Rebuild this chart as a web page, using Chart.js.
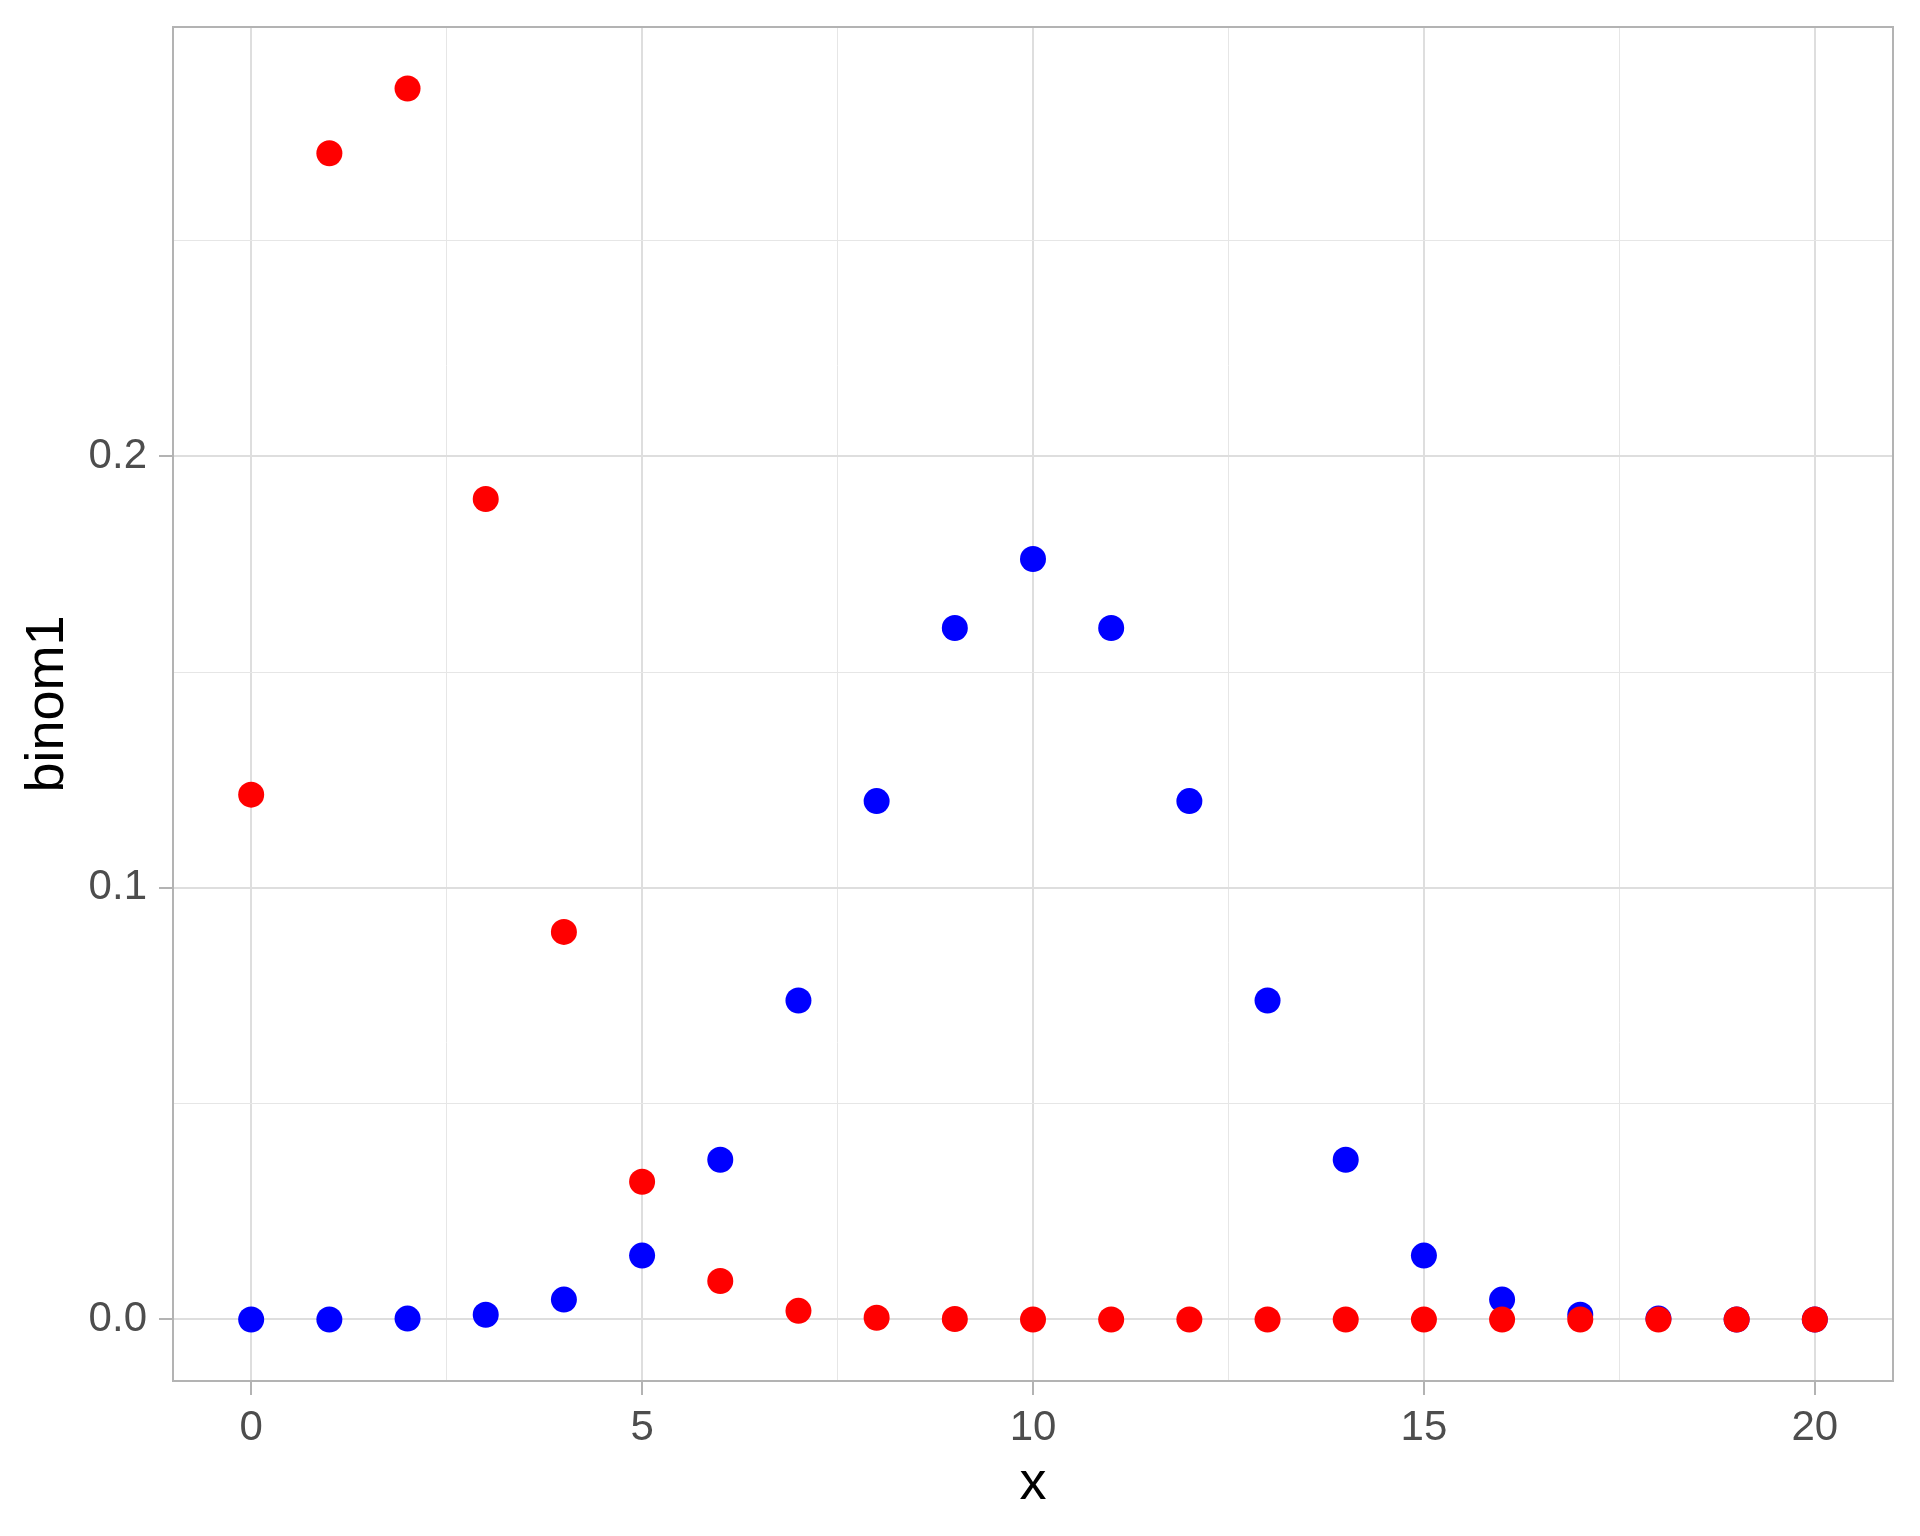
<!DOCTYPE html>
<html>
<head>
<meta charset="utf-8">
<title>binom1</title>
<script src="https://cdn.jsdelivr.net/npm/chart.js"></script>
<style>
  html, body { margin: 0; padding: 0; background: #fff; }
  #wrap { width: 1920px; height: 1536px; }
</style>
</head>
<body>
<div id="wrap"><canvas id="grafico"></canvas></div>
<script>
// valores
const xs = [0, 1, 2, 3, 4, 5, 6, 7, 8, 9, 10, 11, 12, 13, 14, 15, 16, 17, 18, 19, 20];
const binomRed = [0.1216, 0.2702, 0.2852, 0.1901, 0.0898, 0.0319, 0.0089, 0.0020, 0.0004, 0.0001, 0, 0, 0, 0, 0, 0, 0, 0, 0, 0, 0];
const binomBlue = [0, 0, 0.0002, 0.0011, 0.0046, 0.0148, 0.0370, 0.0739, 0.1201, 0.1602, 0.1762, 0.1602, 0.1201, 0.0739, 0.0370, 0.0148, 0.0046, 0.0011, 0.0002, 0, 0];
const xTicks = [0, 2.5, 5, 7.5, 10, 12.5, 15, 17.5, 20];
const xLabels = [0, 5, 10, 15, 20];
const yTicks = [0, 0.05, 0.1, 0.15, 0.2, 0.25];
const yLabels = [0, 0.1, 0.2];

const FONT = "'Liberation Sans', Arial, sans-serif";

const isMajor = (v, list) => list.some(l => Math.abs(l - v) < 1e-9);

// borde del panel (estilo ggplot theme_light)
const panelBorder = {
  id: 'panelBorder',
  afterDraw(chart) {
    const a = chart.chartArea;
    const ctx = chart.ctx;
    ctx.save();
    ctx.strokeStyle = '#B3B3B3';
    ctx.lineWidth = 2;
    ctx.strokeRect(a.left, a.top, a.right - a.left, a.bottom - a.top);
    ctx.restore();
  }
};

const ctx = document.getElementById('grafico').getContext('2d');
new Chart(ctx, {
  type: 'scatter',
  data: {
    datasets: [
      {
        label: 'red',
        data: xs.map((x, i) => ({ x: x, y: binomRed[i] })),
        backgroundColor: '#FF0000',
        borderWidth: 0,
        pointRadius: 13,
        pointHoverRadius: 13
      },
      {
        label: 'blue',
        data: xs.map((x, i) => ({ x: x, y: binomBlue[i] })),
        backgroundColor: '#0000FF',
        borderWidth: 0,
        pointRadius: 13,
        pointHoverRadius: 13
      }
    ]
  },
  options: {
    responsive: true,
    maintainAspectRatio: false,
    animation: false,
    events: [],
    layout: { padding: { left: 0, top: 27, right: 27, bottom: 0 } },
    plugins: {
      legend: { display: false },
      tooltip: { enabled: false }
    },
    scales: {
      x: {
        type: 'linear',
        min: -1,
        max: 21,
        afterBuildTicks: s => { s.ticks = xTicks.map(v => ({ value: v })); },
        afterFit: s => { s.height = 155; s.paddingLeft = 0; s.paddingRight = 0; },
        border: { display: false },
        grid: {
          color: c => isMajor(c.tick.value, xLabels) ? '#DEDEDE' : '#E6E6E6',
          lineWidth: c => isMajor(c.tick.value, xLabels) ? 2 : 1,
          tickColor: c => isMajor(c.tick.value, xLabels) ? '#B3B3B3' : 'rgba(0,0,0,0)',
          tickWidth: 2,
          tickLength: 14
        },
        ticks: {
          autoSkip: false,
          maxRotation: 0,
          padding: 8,
          color: '#4D4D4D',
          font: { family: FONT, size: 42 },
          callback: v => isMajor(v, xLabels) ? String(v) : ''
        },
        title: {
          display: true,
          text: 'x',
          color: '#000',
          font: { family: FONT, size: 54 },
          padding: { top: 0, bottom: 19 }
        }
      },
      y: {
        type: 'linear',
        min: -0.01426,
        max: 0.29946,
        afterBuildTicks: s => { s.ticks = yTicks.map(v => ({ value: v })); },
        afterFit: s => { s.width = 173; s.paddingTop = 0; s.paddingBottom = 0; },
        border: { display: false },
        grid: {
          color: c => isMajor(c.tick.value, yLabels) ? '#DEDEDE' : '#E6E6E6',
          lineWidth: c => isMajor(c.tick.value, yLabels) ? 2 : 1,
          tickColor: c => isMajor(c.tick.value, yLabels) ? '#B3B3B3' : 'rgba(0,0,0,0)',
          tickWidth: 2,
          tickLength: 14
        },
        ticks: {
          autoSkip: false,
          padding: 12,
          color: '#4D4D4D',
          font: { family: FONT, size: 42 },
          callback: v => isMajor(v, yLabels) ? v.toFixed(1) : ''
        },
        title: {
          display: true,
          text: 'binom1',
          color: '#000',
          font: { family: FONT, size: 54 },
          padding: { top: 16, bottom: 0 }
        }
      }
    }
  },
  plugins: [panelBorder]
});
</script>
</body>
</html>
